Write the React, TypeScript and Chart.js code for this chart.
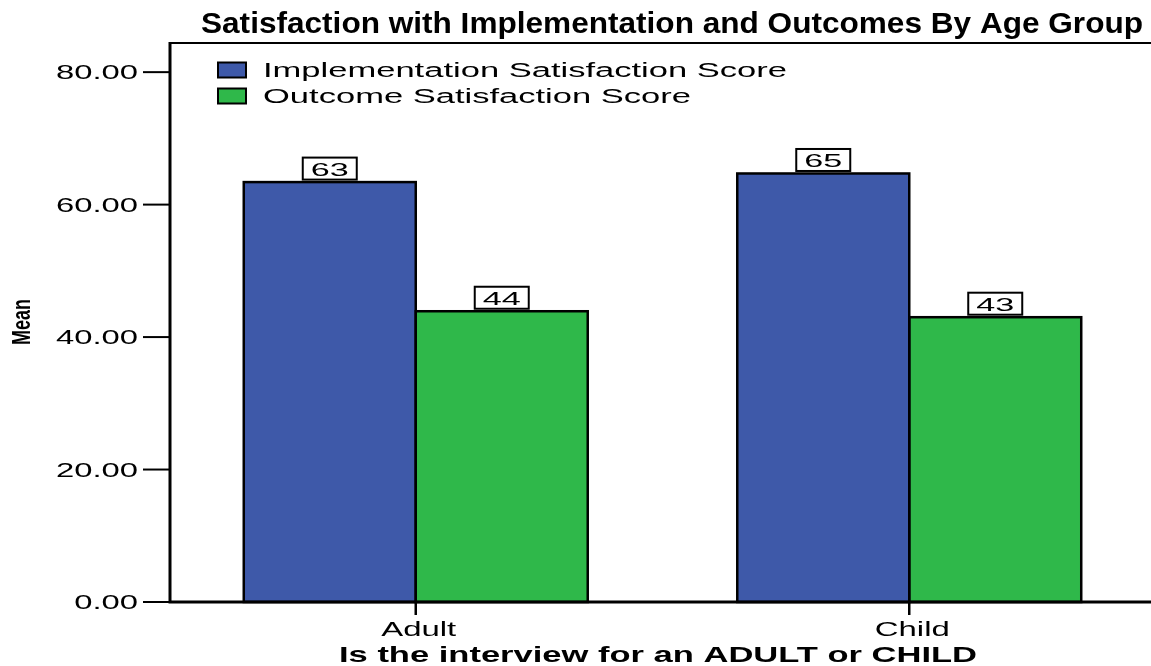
import React, { useEffect, useRef } from "react";
import { Chart, registerables } from "chart.js";

Chart.register(...registerables);

const categories = ["Adult", "Child"];
const seriesNames = ["Implementation Satisfaction Score", "Outcome Satisfaction Score"];
const implementationScores = [63.4, 64.7];
const outcomeScores = [43.9, 43.0];
const yTickValues = [0, 20, 40, 60, 80];
const seriesColors = ["#3e59a9", "#2fb84a"];
const chartTitle = "Satisfaction with Implementation and Outcomes By Age Group";
const xAxisTitle = "Is the interview for an ADULT or CHILD";
const yAxisTitle = "Mean";

const FONT = "'Liberation Sans', Arial, sans-serif";

function stretchText(
  ctx: CanvasRenderingContext2D,
  text: string,
  x: number,
  y: number,
  font: string,
  sx: number,
  align: CanvasTextAlign,
  baseline: CanvasTextBaseline = "alphabetic"
) {
  ctx.save();
  ctx.font = font;
  ctx.translate(x, y);
  ctx.scale(sx, 1);
  ctx.textAlign = align;
  ctx.textBaseline = baseline;
  ctx.fillStyle = "#000";
  ctx.fillText(text, 0, 0);
  ctx.restore();
}

function factor(ctx: CanvasRenderingContext2D, text: string, font: string, target: number) {
  ctx.save();
  ctx.font = font;
  const w = ctx.measureText(text).width;
  ctx.restore();
  return target / w;
}

const decorPlugin = {
  id: "decor",
  afterDraw(chart: any) {
    const ctx: CanvasRenderingContext2D = chart.ctx;
    const area = chart.chartArea;
    const xs = chart.scales.x;
    const ys = chart.scales.y;
    const W = chart.width;

    // bar outlines
    ctx.save();
    ctx.strokeStyle = "#000";
    ctx.lineWidth = 2.5;
    chart.data.datasets.forEach((_: any, di: number) => {
      chart.getDatasetMeta(di).data.forEach((el: any) => {
        const p = el.getProps(["x", "y", "base", "width"], true);
        ctx.strokeRect(p.x - p.width / 2, p.y, p.width, p.base - p.y);
      });
    });
    ctx.restore();

    // data labels
    const labFont = `19px ${FONT}`;
    const labSx = factor(ctx, "63", labFont, 38);
    chart.data.datasets.forEach((ds: any, di: number) => {
      chart.getDatasetMeta(di).data.forEach((el: any, i: number) => {
        const p = el.getProps(["x", "y"], true);
        const bw = 54, bh = 22;
        const bottom = p.y - 2.5;
        ctx.save();
        ctx.fillStyle = "#fff";
        ctx.fillRect(p.x - bw / 2, bottom - bh, bw, bh);
        ctx.strokeStyle = "#000";
        ctx.lineWidth = 2;
        ctx.strokeRect(p.x - bw / 2, bottom - bh, bw, bh);
        ctx.restore();
        stretchText(ctx, String(Math.round(ds.data[i])), p.x, bottom - 3.5, labFont, labSx, "center");
      });
    });

    // axes
    ctx.save();
    ctx.strokeStyle = "#000";
    ctx.lineWidth = 2;
    ctx.beginPath();
    ctx.moveTo(area.left, area.top);
    ctx.lineTo(W, area.top);
    ctx.stroke();
    ctx.lineWidth = 3;
    ctx.beginPath();
    ctx.moveTo(area.left + 1, area.top - 1);
    ctx.lineTo(area.left + 1, area.bottom + 1.5);
    ctx.moveTo(area.left, area.bottom);
    ctx.lineTo(W, area.bottom);
    ctx.stroke();
    // y ticks
    ctx.lineWidth = 2;
    ys.ticks.forEach((t: any) => {
      const y = ys.getPixelForValue(t.value);
      ctx.beginPath();
      ctx.moveTo(area.left - 26, y);
      ctx.lineTo(area.left, y);
      ctx.stroke();
    });
    // x ticks
    ctx.lineWidth = 2.5;
    categories.forEach((_, i) => {
      const x = xs.getPixelForValue(i);
      ctx.beginPath();
      ctx.moveTo(x, area.bottom);
      ctx.lineTo(x, area.bottom + 13);
      ctx.stroke();
    });
    ctx.restore();

    // y tick labels
    const tickFont = `20px ${FONT}`;
    const tickSx = factor(ctx, "80.00", tickFont, 82);
    ys.ticks.forEach((t: any) => {
      const y = ys.getPixelForValue(t.value);
      stretchText(ctx, t.value.toFixed(2), area.left - 31, y + 7, tickFont, tickSx, "right");
    });

    // x tick labels
    const xSx = factor(ctx, "Adult", tickFont, 75);
    categories.forEach((c, i) => {
      const x = xs.getPixelForValue(i);
      stretchText(ctx, c, x + 3, 636, tickFont, xSx, "center");
    });

    // x axis title
    const xtFont = `bold 22px ${FONT}`;
    stretchText(ctx, xAxisTitle, 658, 662, xtFont, factor(ctx, xAxisTitle, xtFont, 638), "center");

    // y axis title (rotated)
    const ytFont = `bold 25px ${FONT}`;
    const ySx = factor(ctx, yAxisTitle, ytFont, 46);
    ctx.save();
    ctx.translate(30, 322);
    ctx.rotate(-Math.PI / 2);
    ctx.scale(ySx, 1);
    ctx.font = ytFont;
    ctx.textAlign = "center";
    ctx.textBaseline = "alphabetic";
    ctx.fillStyle = "#000";
    ctx.fillText(yAxisTitle, 0, 0);
    ctx.restore();

    // title
    const tFont = `bold 29px ${FONT}`;
    stretchText(ctx, chartTitle, 201, 33, tFont, factor(ctx, chartTitle, tFont, 942), "left");

    // legend
    const legFont = `20px ${FONT}`;
    const legSx = factor(ctx, seriesNames[0], legFont, 524);
    const rows = [70, 96];
    seriesNames.forEach((name, i) => {
      const cy = rows[i];
      ctx.save();
      ctx.fillStyle = seriesColors[i];
      ctx.fillRect(218, cy - 7.5, 28, 15);
      ctx.strokeStyle = "#000";
      ctx.lineWidth = 2;
      ctx.strokeRect(218, cy - 7.5, 28, 15);
      ctx.restore();
      stretchText(ctx, name, 263, cy + 7, legFont, legSx, "left");
    });
  },
};

export default function App() {
  const ref = useRef<HTMLCanvasElement | null>(null);
  useEffect(() => {
    if (!ref.current) return;
    const chart = new Chart(ref.current, {
      type: "bar",
      data: {
        labels: categories,
        datasets: [
          {
            label: seriesNames[0],
            data: implementationScores,
            backgroundColor: seriesColors[0],
            borderWidth: 0,
            categoryPercentage: 0.697,
            barPercentage: 1,
          },
          {
            label: seriesNames[1],
            data: outcomeScores,
            backgroundColor: seriesColors[1],
            borderWidth: 0,
            categoryPercentage: 0.697,
            barPercentage: 1,
          },
        ],
      },
      options: {
        responsive: false,
        animation: false,
        devicePixelRatio: 1,
        layout: { padding: { top: 43, right: 24, left: 0, bottom: 0 } },
        plugins: {
          legend: { display: false },
          title: { display: false },
          tooltip: { enabled: false },
        },
        scales: {
          x: {
            type: "category",
            offset: true,
            ticks: { display: false },
            grid: { display: false, offset: false },
            border: { display: false },
            afterFit: (s: any) => {
              s.height = 64;
            },
          },
          y: {
            min: 0,
            max: 84.4,
            ticks: { display: false, stepSize: 20 },
            grid: { display: false },
            border: { display: false },
            afterBuildTicks: (s: any) => {
              s.ticks = yTickValues.map((v) => ({ value: v }));
            },
            afterFit: (s: any) => {
              s.width = 169;
            },
          },
        },
      },
      plugins: [decorPlugin],
    } as any);
    return () => chart.destroy();
  }, []);
  return (
    <div
      style={{
        position: "fixed",
        left: 0,
        top: 0,
        width: 1151,
        height: 666,
        overflow: "hidden",
        background: "#fff",
      }}
    >
      <canvas ref={ref} width={1180} height={666} style={{ display: "block" }} />
    </div>
  );
}
